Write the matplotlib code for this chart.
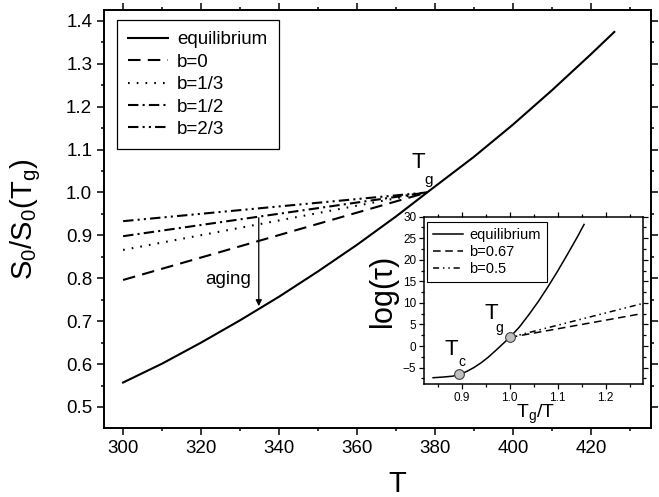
import matplotlib
matplotlib.use('Agg')
import matplotlib.pyplot as plt
from matplotlib.ticker import MultipleLocator

plt.rcParams['font.family'] = ['Liberation Sans', 'DejaVu Sans']
plt.rcParams['mathtext.fontset'] = 'custom'
plt.rcParams['mathtext.rm'] = 'Liberation Sans'
plt.rcParams['mathtext.it'] = 'Liberation Sans'

# main panel: equilibrium S0/S0(Tg) vs T
T_eq = [300, 310, 320, 330, 340, 350, 360, 370, 378, 390, 400, 410, 420, 426]
S_eq = [0.557, 0.601, 0.650, 0.702, 0.757, 0.816, 0.878, 0.944, 1.0,
        1.083, 1.158, 1.238, 1.322, 1.374]

# glassy branches below Tg (start at T=300, meet at Tg)
T_glass = [300, 378]
S_b0 = [0.796, 1.0]
S_b13 = [0.866, 1.0]
S_b12 = [0.898, 1.0]
S_b23 = [0.933, 1.0]

# inset: log(tau) vs Tg/T
x_eq = [0.84, 0.86, 0.88, 0.895, 0.91, 0.925, 0.94, 0.955, 0.97, 0.985, 1.0,
        1.02, 1.04, 1.06, 1.08, 1.10, 1.12, 1.14, 1.155]
y_eq = [-7.35, -7.2, -7.0, -6.6, -5.9, -5.0, -3.9, -2.6, -1.1, 0.45, 2.0,
        4.4, 7.3, 10.4, 13.8, 17.4, 21.2, 25.1, 28.2]
x_glass = [1.0, 1.275]
y_b067 = [2.0, 7.5]
y_b05 = [2.0, 9.8]
x_pts = [0.895, 1.0]
y_pts = [-6.6, 2.0]

fig = plt.figure(figsize=(6.59, 4.97), dpi=100)
ax = fig.add_axes([0.1578, 0.1388, 0.830, 0.841])

lw = 1.5
ax.plot(T_eq, S_eq, color='black', lw=lw, label='equilibrium')
ax.plot(T_glass, S_b0, color='black', lw=lw, dashes=(6, 3.5), label='b=0')
ax.plot(T_glass, S_b13, color='black', lw=lw, dashes=(0.8, 3.4), label='b=1/3')
ax.plot(T_glass, S_b12, color='black', lw=lw, dashes=(5, 2, 1, 2), label='b=1/2')
ax.plot(T_glass, S_b23, color='black', lw=lw, dashes=(5, 2, 1, 2, 1, 2), label='b=2/3')

ax.annotate('', xy=(334.8, 0.735), xytext=(334.8, 0.941),
            arrowprops=dict(arrowstyle='-|>', color='black', lw=0.9,
                            mutation_scale=9, shrinkA=0, shrinkB=0))
ax.text(327.0, 0.796, 'aging', fontsize=13.5, ha='center', va='center')
ax.text(375.6, 1.069, 'T', fontsize=16, ha='center', va='center')
ax.text(378.4, 1.029, 'g', fontsize=11, ha='center', va='center')

ax.set_xlim(295.1, 435.4)
ax.set_ylim(0.451, 1.425)
ax.xaxis.set_major_locator(MultipleLocator(20))
ax.xaxis.set_minor_locator(MultipleLocator(10))
ax.yaxis.set_major_locator(MultipleLocator(0.1))
ax.yaxis.set_minor_locator(MultipleLocator(0.05))
ax.tick_params(which='both', direction='out', top=True, right=True, labelsize=13.5, width=1.1)
ax.tick_params(which='major', length=5)
ax.tick_params(which='minor', length=2.5)
for s in ax.spines.values():
    s.set_linewidth(1.4)

ax.set_xlabel('T', fontsize=21)
ax.xaxis.set_label_coords(0.536, -0.1)
ax.set_ylabel(r'$\mathrm{S_0/S_0(T_g)}$', fontsize=21)
ax.yaxis.set_label_coords(-0.1115, 0.5)

leg = ax.legend(loc='upper left', bbox_to_anchor=(0.024, 0.976), fontsize=13.5,
                fancybox=False, edgecolor='black', framealpha=1, borderaxespad=0,
                handlelength=2.1, labelspacing=0.28, borderpad=0.6, handletextpad=0.5)
leg.get_frame().set_linewidth(0.9)

# inset
ins = fig.add_axes([0.6434, 0.2274, 0.3323, 0.3366])
ins.plot(x_eq, y_eq, color='black', lw=1.1, label='equilibrium')
ins.plot(x_glass, y_b067, color='black', lw=1.1, dashes=(5, 3), label='b=0.67')
ins.plot(x_glass, y_b05, color='black', lw=1.1, dashes=(4, 2.5, 1, 2.5, 1, 2.5), label='b=0.5')
ins.plot(x_pts, y_pts, 'o', color='#c0c0c0', mec='#404040', mew=0.8, ms=7, zorder=5)
ins.text(0.879, -0.74, 'T', fontsize=16, ha='center', va='center')
ins.text(0.8995, -3.6, 'c', fontsize=10, ha='center', va='center')
ins.text(0.961, 7.48, 'T', fontsize=16, ha='center', va='center')
ins.text(0.979, 4.1, 'g', fontsize=10, ha='center', va='center')

ins.set_xlim(0.821, 1.278)
ins.set_ylim(-8.8, 30)
ins.xaxis.set_major_locator(MultipleLocator(0.1))
ins.xaxis.set_minor_locator(MultipleLocator(0.05))
ins.yaxis.set_major_locator(MultipleLocator(5))
ins.yaxis.set_minor_locator(MultipleLocator(2.5))
ins.set_xticks([0.9, 1.0, 1.1, 1.2])
ins.set_xticklabels(['0.9', '1.0', '1.1', '1.2'])
ins.tick_params(which='both', direction='out', top=True, right=True, labelsize=8.5, width=0.9, pad=2)
ins.tick_params(which='major', length=3.5)
ins.tick_params(which='minor', length=2)
for s in ins.spines.values():
    s.set_linewidth(1.1)
ins.set_xlabel(r'$\mathrm{T_g/T}$', fontsize=14)
ins.xaxis.set_label_coords(0.507, -0.114)
ins.set_ylabel(r'log($\tau$)', fontsize=22)
ins.yaxis.set_label_coords(-0.10, 0.544)

leg2 = ins.legend(loc='upper left', bbox_to_anchor=(0.014, 0.968), fontsize=10.5,
                  fancybox=False, edgecolor='black', framealpha=1, borderaxespad=0,
                  handlelength=2.05, labelspacing=0.2, borderpad=0.4, handletextpad=0.45)
leg2.get_frame().set_linewidth(0.8)

fig.savefig('out.png', dpi=100)
